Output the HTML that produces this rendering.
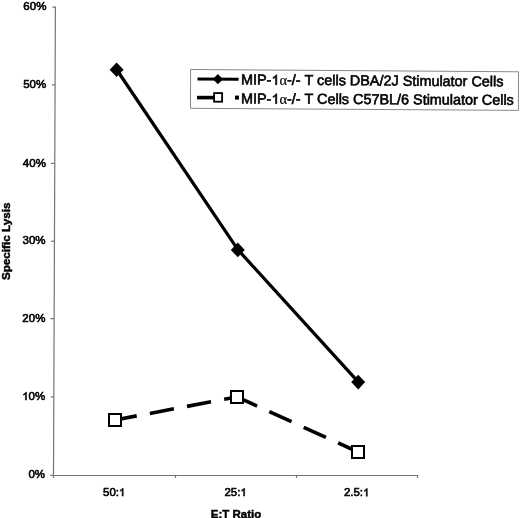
<!DOCTYPE html>
<html><head><meta charset="utf-8">
<style>
html,body{margin:0;padding:0;background:#fff;}
body{width:520px;height:518px;overflow:hidden;position:relative;}
svg{position:absolute;left:0;top:0;filter:grayscale(1);}
text{font-family:"Liberation Sans",sans-serif;stroke:#000;stroke-width:0.6px;}
text.b{font-weight:bold;stroke-width:0.45px;}
.h{fill:none;stroke:none;}
.one{fill:#000;stroke:#000;stroke-width:0.6px;}
</style></head>
<body>
<svg width="520" height="518" viewBox="0 0 520 518">
<g stroke="#757575" stroke-width="1.2" fill="none">
<line x1="55.4" y1="6.6" x2="53.5" y2="475.5"/>
<line x1="53" y1="475.5" x2="418" y2="475.5"/>
<line x1="52.3" y1="7.1" x2="55.4" y2="7.1"/>
<line x1="52.0" y1="84.9" x2="55.1" y2="84.9"/>
<line x1="51.0" y1="163.4" x2="54.7" y2="163.4"/>
<line x1="51.0" y1="241.2" x2="54.4" y2="241.2"/>
<line x1="50.3" y1="318.6" x2="54.1" y2="318.6"/>
<line x1="50.8" y1="396.9" x2="53.7" y2="396.9"/>
<line x1="50.2" y1="475.4" x2="53.4" y2="475.4"/>
<line x1="53.5" y1="475" x2="53.5" y2="478"/>
<line x1="175.5" y1="475" x2="175.5" y2="478"/>
<line x1="296.5" y1="475" x2="296.5" y2="478"/>
<line x1="417.5" y1="475" x2="417.5" y2="478"/>
</g>
<g font-size="11.5" fill="#000" text-anchor="end">
<text x="46.4" y="9.9">60%</text>
<text x="46.2" y="88.2">50%</text>
<text x="45.9" y="166.6">40%</text>
<text x="45.6" y="244.2">30%</text>
<text x="45.4" y="321.8">20%</text>
<text x="45.2" y="400.1"><tspan class="h">1</tspan>0%</text>
<text x="45.0" y="478.1">0%</text>
</g>
<g font-size="11.4" fill="#000" text-anchor="middle">
<text x="114.2" y="496.1">50:<tspan class="h">1</tspan></text>
<text x="235.6" y="496.1">25:<tspan class="h">1</tspan></text>
<text x="356.7" y="496.3">2.5:<tspan class="h">1</tspan></text>
</g>
<text class="b" x="236.0" y="518.2" font-size="11.5" text-anchor="middle">E:T Ratio</text>
<text class="b" transform="translate(10.2,241.3) rotate(-90)" font-size="11.7" text-anchor="middle">Specific Lysis</text>
<polyline points="116.6,69.5 237.8,249.6 358.2,381.8" fill="none" stroke="#000" stroke-width="3.3"/>
<g fill="#000">
<path d="M116.6,62.5 L123.6,69.8 L116.6,77.1 L109.6,69.8Z"/>
<path d="M237.8,242.6 L244.8,249.9 L237.8,257.2 L230.8,249.9Z"/>
<path d="M358.2,374.8 L365.2,382.1 L358.2,389.4 L351.2,382.1Z"/>
</g>
<g fill="none" stroke="#000" stroke-width="3.6" stroke-dasharray="24.4 13.4" stroke-dashoffset="2.3">
<line x1="115" y1="420" x2="237" y2="396.9"/>
<line x1="237" y1="396.9" x2="358" y2="452"/>
</g>
<g fill="#fff" stroke="#000" stroke-width="2">
<rect x="109" y="414" width="12" height="12"/>
<rect x="231" y="391" width="12" height="12"/>
<rect x="352" y="446" width="12" height="12"/>
</g>
<path d="M190.6,69.5 L518.5,71.8 L518.4,110.4 L190.5,108.3Z" fill="none" stroke="#888888" stroke-width="1.0"/>
<line x1="197.5" y1="79.1" x2="238.6" y2="79.3" stroke="#000" stroke-width="3"/>
<path d="M217.9,74.1 L223.0,79.2 L217.9,84.3 L212.8,79.2Z" fill="#000"/>
<line x1="197" y1="97.6" x2="214" y2="97.6" stroke="#000" stroke-width="3.6"/>
<rect x="214.1" y="93.1" width="8" height="8.6" fill="#fff" stroke="#000" stroke-width="1.8"/>
<rect x="235" y="95.6" width="4" height="4" fill="#000"/>
<g font-size="14.4" fill="#000">
<text x="241" y="84.5" transform="rotate(0.42 241 84.5)">MIP-<tspan class="h">1</tspan><tspan font-family="Liberation Serif" style="stroke-width:0.2px">α</tspan>-/- T cells DBA/2J Stimulator Cells</text>
<text x="241" y="103.5" transform="rotate(0.28 241 103.5)">MIP-<tspan class="h">1</tspan><tspan font-family="Liberation Serif" style="stroke-width:0.2px">α</tspan>-/- T Cells C57BL/6 Stimulator Cells</text>
</g>
<path class="one" vector-effect="non-scaling-stroke" transform=" translate(22.169,400.100) scale(0.005615,-0.005615)" d="M583,0 L763,0 L763,1409 L646,1409 C614,1346 560,1280 485,1211 C410,1142 320,1089 223,1050 L223,880 C278,900 340,930 410,970 C480,1010 537,1050 583,1090 Z"/>
<path class="one" vector-effect="non-scaling-stroke" transform=" translate(118.950,496.100) scale(0.005566,-0.005566)" d="M583,0 L763,0 L763,1409 L646,1409 C614,1346 560,1280 485,1211 C410,1142 320,1089 223,1050 L223,880 C278,900 340,930 410,970 C480,1010 537,1050 583,1090 Z"/>
<path class="one" vector-effect="non-scaling-stroke" transform=" translate(240.350,496.100) scale(0.005566,-0.005566)" d="M583,0 L763,0 L763,1409 L646,1409 C614,1346 560,1280 485,1211 C410,1142 320,1089 223,1050 L223,880 C278,900 340,930 410,970 C480,1010 537,1050 583,1090 Z"/>
<path class="one" vector-effect="non-scaling-stroke" transform=" translate(363.028,496.300) scale(0.005566,-0.005566)" d="M583,0 L763,0 L763,1409 L646,1409 C614,1346 560,1280 485,1211 C410,1142 320,1089 223,1050 L223,880 C278,900 340,930 410,970 C480,1010 537,1050 583,1090 Z"/>
<path class="one" vector-effect="non-scaling-stroke" transform="rotate(0.42 241 84.5) translate(271.391,84.500) scale(0.007031,-0.007031)" d="M583,0 L763,0 L763,1409 L646,1409 C614,1346 560,1280 485,1211 C410,1142 320,1089 223,1050 L223,880 C278,900 340,930 410,970 C480,1010 537,1050 583,1090 Z"/>
<path class="one" vector-effect="non-scaling-stroke" transform="rotate(0.28 241 103.5) translate(271.391,103.500) scale(0.007031,-0.007031)" d="M583,0 L763,0 L763,1409 L646,1409 C614,1346 560,1280 485,1211 C410,1142 320,1089 223,1050 L223,880 C278,900 340,930 410,970 C480,1010 537,1050 583,1090 Z"/>
</svg>
</body></html>
